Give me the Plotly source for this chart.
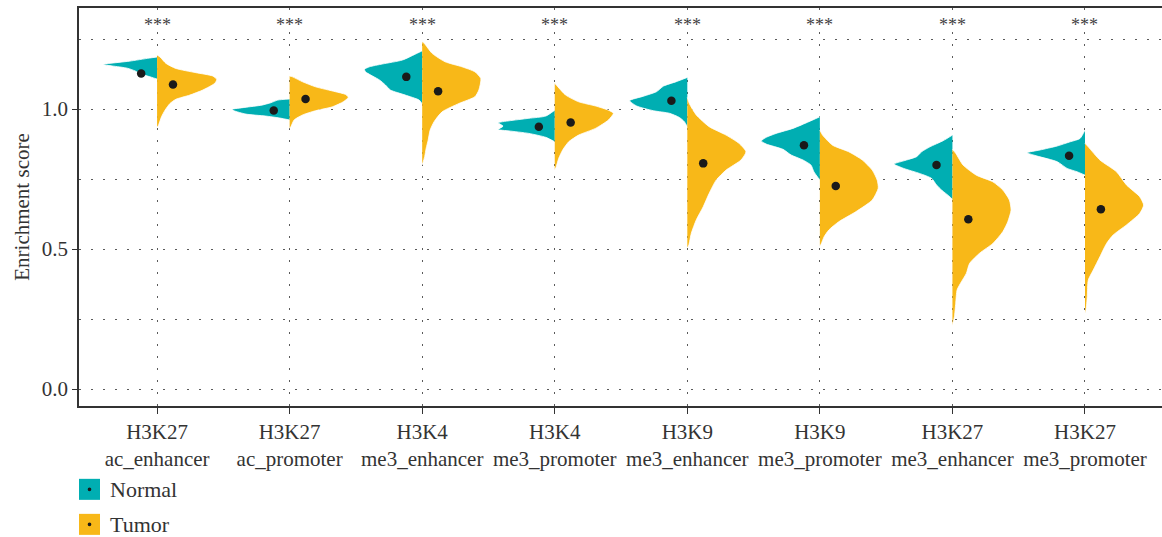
import plotly.graph_objects as go

# Histone-mark gene sets shown on the x axis
categories = [
    "H3K27<br>ac_enhancer", "H3K27<br>ac_promoter",
    "H3K4<br>me3_enhancer", "H3K4<br>me3_promoter",
    "H3K9<br>me3_enhancer", "H3K9<br>me3_promoter",
    "H3K27<br>me3_enhancer", "H3K27<br>me3_promoter",
]
signif = ["***"] * 8

# Density profiles (score level, relative density) for each half violin
normal_y = [
    [1.186, 1.182, 1.171, 1.163, 1.159, 1.154, 1.146, 1.136, 1.125, 1.114, 1.107],
    [1.036, 1.032, 1.0225, 1.014, 1.006, 0.999, 0.994, 0.982, 0.975, 0.968, 0.961],
    [1.208, 1.196, 1.175, 1.161, 1.151, 1.142, 1.133, 1.104, 1.086, 1.068, 1.050, 1.032, 1.018],
    [0.996, 0.975, 0.967, 0.958, 0.951, 0.939, 0.927, 0.922, 0.913, 0.899, 0.883],
    [1.113, 1.098, 1.082, 1.062, 1.046, 1.030, 1.011, 0.994, 0.985, 0.970, 0.955, 0.937],
    [0.9725, 0.955, 0.931, 0.913, 0.899, 0.886, 0.875, 0.856, 0.836, 0.818, 0.800, 0.776, 0.746],
    [0.907, 0.887, 0.865, 0.8475, 0.830, 0.815, 0.8036, 0.788, 0.770, 0.7525, 0.729, 0.711, 0.687, 0.677],
    [0.925, 0.895, 0.883, 0.868, 0.854, 0.844, 0.832, 0.812, 0.788, 0.776, 0.764],
]
normal_d = [
    [0, 8, 28, 48, 55, 45, 30, 22, 16, 6, 0],
    [0, 12, 19, 28, 45, 58, 56, 44, 24, 10, 0],
    [0, 7, 20, 40, 53, 58, 57, 43, 37, 32, 17, 3, 0],
    [0, 9, 26, 46, 57, 52, 57, 46, 26, 9, 0],
    [0, 11, 24, 31, 44, 58, 51, 34, 18, 8, 3, 0],
    [0, 11, 27, 44, 54, 59, 54, 37, 29, 17, 9, 6, 0],
    [0, 9.3, 22.7, 31, 36, 49, 58.7, 49, 33, 21, 16, 11, 2.7, 0],
    [0, 5, 15, 28, 45, 58.3, 48, 28, 18, 8, 0],
]
tumor_y = [
    [1.193, 1.186, 1.163, 1.145, 1.130, 1.118, 1.106, 1.092, 1.068, 1.050, 1.035, 1.020, 0.996, 0.973, 0.939, 0.936],
    [1.118, 1.115, 1.0975, 1.0796, 1.062, 1.0525, 1.042, 1.026, 1.008, 0.994, 0.979, 0.961, 0.935, 0.932],
    [1.240, 1.235, 1.199, 1.169, 1.151, 1.133, 1.109, 1.068, 1.044, 1.020, 0.990, 0.955, 0.925, 0.889, 0.860, 0.830, 0.800],
    [1.092, 1.080, 1.050, 1.026, 1.011, 0.996, 0.985, 0.961, 0.931, 0.907, 0.883, 0.854, 0.824, 0.794, 0.782],
    [1.042, 1.020, 0.979, 0.937, 0.907, 0.8775, 0.8475, 0.818, 0.782, 0.746, 0.699, 0.651, 0.604, 0.556, 0.514, 0.504],
    [0.925, 0.907, 0.871, 0.8475, 0.818, 0.782, 0.746, 0.717, 0.675, 0.633, 0.5975, 0.568, 0.544, 0.518, 0.511],
    [0.856, 0.842, 0.800, 0.764, 0.740, 0.711, 0.675, 0.639, 0.5975, 0.562, 0.520, 0.485, 0.449, 0.413, 0.383, 0.354, 0.306, 0.258, 0.235, 0.225],
    [0.8775, 0.865, 0.818, 0.776, 0.729, 0.687, 0.657, 0.627, 0.586, 0.550, 0.520, 0.4725, 0.425, 0.389, 0.330, 0.282, 0.271],
]
tumor_d = [
    [0, 3, 9, 19, 39, 56, 60, 58, 46, 33, 19, 13, 8, 4.5, 1, 0],
    [0, 3, 13, 26, 46, 56, 59, 54, 43, 26, 13, 4.5, 1, 0],
    [0, 2, 10, 23, 40, 53, 59, 57, 53, 37, 20, 12, 8, 6, 4, 2.5, 0],
    [0, 3, 11, 24, 41, 54, 59, 54, 41, 24, 14, 8, 4, 1.5, 0],
    [0, 2, 9, 22, 39, 52, 59, 54, 39, 29, 22, 16, 9, 4, 1.5, 0],
    [0, 2.7, 12.7, 29, 42.7, 52.7, 57.7, 58.7, 52.7, 36, 19, 9, 4.3, 1.3, 0],
    [0, 3.3, 10.7, 24, 40.7, 50.7, 57.3, 59, 55.7, 50.7, 40.7, 27.3, 17.3, 14, 9, 4.7, 3.3, 2, 0.5, 0],
    [0, 3.3, 15, 31.7, 41.7, 55, 59, 55, 41.7, 28.3, 21.7, 15, 8.3, 3.3, 2.3, 1, 0],
]

# Group means and standard errors
normal_mean = [1.127, 0.995, 1.115, 0.937, 1.030, 0.871, 0.800, 0.833]
normal_se = [0.004, 0.004, 0.006, 0.004, 0.005, 0.005, 0.006, 0.004]
tumor_mean = [1.088, 1.036, 1.064, 0.952, 0.806, 0.725, 0.606, 0.642]
tumor_se = [0.004, 0.004, 0.006, 0.004, 0.007, 0.006, 0.007, 0.007]

TEAL = "#00AEB2"
GOLD = "#F8B818"
TEXT = "#333333"
FONT = "Liberation Serif"
HALF_W = 0.45      # max half-violin width in category units
DOT_OFF = 0.12     # horizontal offset of mean markers

dmax = max(max(v) for v in normal_d + tumor_d)

fig = go.Figure()

for i in range(len(categories)):
    for ys, ds, sign, col in ((normal_y[i], normal_d[i], -1, TEAL),
                              (tumor_y[i], tumor_d[i], 1, GOLD)):
        xs = [i + sign * d / dmax * HALF_W for d in ds]
        fig.add_trace(go.Scatter(
            x=xs, y=ys, mode="lines", fill="toself", fillcolor=col,
            line=dict(color="white", width=0.8, shape="spline", smoothing=0.6),
            hoverinfo="skip", showlegend=False,
        ))

xs_n = [i - DOT_OFF for i in range(len(categories))]
xs_t = [i + DOT_OFF for i in range(len(categories))]
for xs, m, se in ((xs_n, normal_mean, normal_se), (xs_t, tumor_mean, tumor_se)):
    fig.add_trace(go.Scatter(
        x=xs, y=m, mode="markers",
        marker=dict(color="#1a1a1a", size=8.5),
        error_y=dict(type="data", array=se, color="#1a1a1a", thickness=1.5, width=3),
        showlegend=False,
    ))

for i, s in enumerate(signif):
    fig.add_annotation(x=i, y=1.300, text=s, showarrow=False,
                       font=dict(family=FONT, size=18, color="#444444"))

# Legend keys drawn below the plot
keys = [("Normal", TEAL, -0.183), ("Tumor", GOLD, -0.271)]
for label, col, top in keys:
    bot = top - 0.0528
    fig.add_shape(type="rect", xref="paper", yref="paper",
                  x0=0, x1=0.0194, y0=bot, y1=top, fillcolor=col, line_width=0)
    mid = (top + bot) / 2
    fig.add_shape(type="circle", xref="paper", yref="paper",
                  x0=0.0097 - 0.0017, x1=0.0097 + 0.0017,
                  y0=mid - 0.0047, y1=mid + 0.0047,
                  fillcolor="#1a1a1a", line_width=0)
    fig.add_annotation(xref="paper", yref="paper", x=0.0265, y=mid,
                       xanchor="left", yanchor="middle", text=label, showarrow=False,
                       font=dict(family=FONT, size=22, color=TEXT))

grid = dict(showgrid=True, gridcolor="#5a5a5a", gridwidth=1.3, griddash="2px,10px")

fig.update_layout(
    width=1162, height=537,
    margin=dict(l=79, r=0, t=8, b=131),
    paper_bgcolor="white", plot_bgcolor="white",
    font=dict(family=FONT, color=TEXT, size=21),
    showlegend=False,
    xaxis=dict(
        range=[-0.589, 7.581], tickmode="array",
        tickvals=list(range(len(categories))), ticktext=categories,
        ticks="outside", ticklen=6, tickcolor="#333333", tickwidth=1,
        showline=True, linecolor="#333333", linewidth=1.5, mirror=True,
        zeroline=False, tickfont=dict(size=21, color=TEXT), **grid,
    ),
    yaxis=dict(
        range=[-0.0607, 1.361], tickmode="array",
        tickvals=[0, 0.5, 1.0], ticktext=["0.0", "0.5", "1.0"],
        ticks="outside", ticklen=5, tickcolor="#333333", tickwidth=1,
        showline=True, linecolor="#333333", linewidth=1.5,
        zeroline=False, tickfont=dict(size=21, color=TEXT),
        title=dict(text="Enrichment score", font=dict(size=21, color=TEXT), standoff=6),
        minor=dict(dtick=0.25, tick0=0, showgrid=True, gridcolor="#5a5a5a",
                   gridwidth=1.3, griddash="2px,10px", ticks=""),
        **grid,
    ),
)

fig.write_html("out.html")
